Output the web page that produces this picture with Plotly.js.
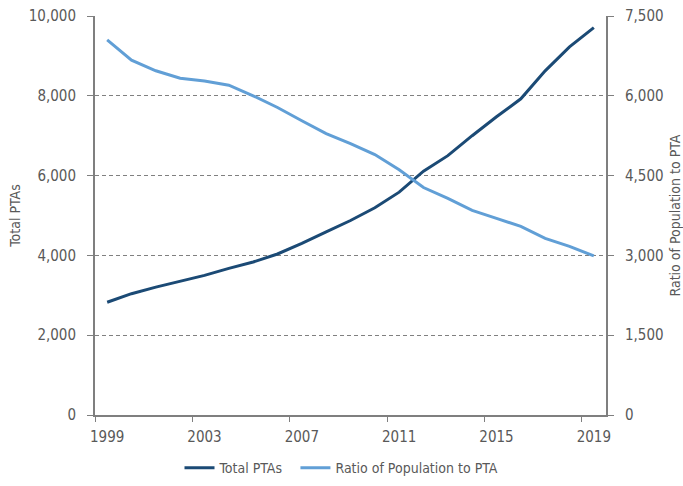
<!DOCTYPE html>
<html>
<head>
<meta charset="utf-8">
<script src="https://cdn.plot.ly/plotly-3.0.1.min.js"></script>
<style>html,body{margin:0;padding:0;background:#fff;}#chart{width:683px;height:486px;}
#chart text{font-stretch:condensed !important;}</style>
</head>
<body>
<div id="chart"></div>
<script>
var years = ["1999","2000","2001","2002","2003","2004","2005","2006","2007","2008","2009","2010","2011","2012","2013","2014","2015","2016","2017","2018","2019"];
var totalPTAs = [2825,3040,3205,3350,3500,3675,3835,4035,4300,4590,4875,5195,5585,6110,6500,7000,7475,7925,8625,9225,9710];
var ratioPopToPTA = [7050,6670,6470,6330,6280,6200,6000,5780,5530,5290,5100,4895,4610,4275,4070,3845,3695,3545,3320,3170,2990];
var leftTicks = [0,2000,4000,6000,8000,10000];
var rightTicks = [0,1500,3000,4500,6000,7500];

var font = {family: "'DejaVu Sans', sans-serif", size: 14, color: "#595959"};
var tickFont = {family: "'DejaVu Sans', sans-serif", size: 15, color: "#595959"};
var axisGrey = "#7f7f7f";

var traces = [
  {x: years, y: totalPTAs, name: "Total PTAs", type: "scatter", mode: "lines",
   line: {color: "#1b4a75", width: 3}, yaxis: "y"},
  {x: years, y: ratioPopToPTA, name: "Ratio of Population to PTA", type: "scatter", mode: "lines",
   line: {color: "#619fd6", width: 3}, yaxis: "y2"}
];

var layout = {
  width: 683, height: 486,
  margin: {l: 95, r: 77, t: 16, b: 71, autoexpand: false},
  paper_bgcolor: "#fff", plot_bgcolor: "#fff",
  font: font,
  showlegend: true,
  legend: {orientation: "h", x: 0.5, xanchor: "center", y: -0.133, yanchor: "middle",
           font: font, itemwidth: 30, tracegroupgap: 0},
  xaxis: {type: "category", range: [-0.5, 20.5], dtick: 4, tick0: 0, tickson: "boundaries",
          ticks: "outside", ticklen: 5, tickwidth: 1, tickcolor: axisGrey, tickangle: 0,
          ticklabelstandoff: 7,
          showline: true, linecolor: axisGrey, linewidth: 2, showgrid: false, zeroline: false,
          tickfont: tickFont, automargin: false},
  yaxis: {range: [0, 10000], tickvals: leftTicks, tickformat: ",d",
          ticks: "outside", ticklen: 6, tickwidth: 1, tickcolor: axisGrey, ticklabelstandoff: 8,
          showline: true, linecolor: axisGrey, linewidth: 2,
          showgrid: true, gridcolor: "#808080", gridwidth: 1, griddash: "4px,3px",
          zeroline: false, tickfont: tickFont, automargin: false,
          title: {text: "Total PTAs", font: font, standoff: 0}},
  yaxis2: {range: [0, 7500], tickvals: rightTicks, tickformat: ",d", overlaying: "y", side: "right",
           ticks: "outside", ticklen: 6, tickwidth: 1, tickcolor: axisGrey, ticklabelstandoff: 8,
           showline: true, linecolor: axisGrey, linewidth: 2,
           showgrid: false, zeroline: false, tickfont: tickFont, automargin: false,
           title: {text: "Ratio of Population to PTA", font: font, standoff: 10}}
};

Plotly.newPlot("chart", traces, layout, {displayModeBar: false, staticPlot: true});
</script>
</body>
</html>
